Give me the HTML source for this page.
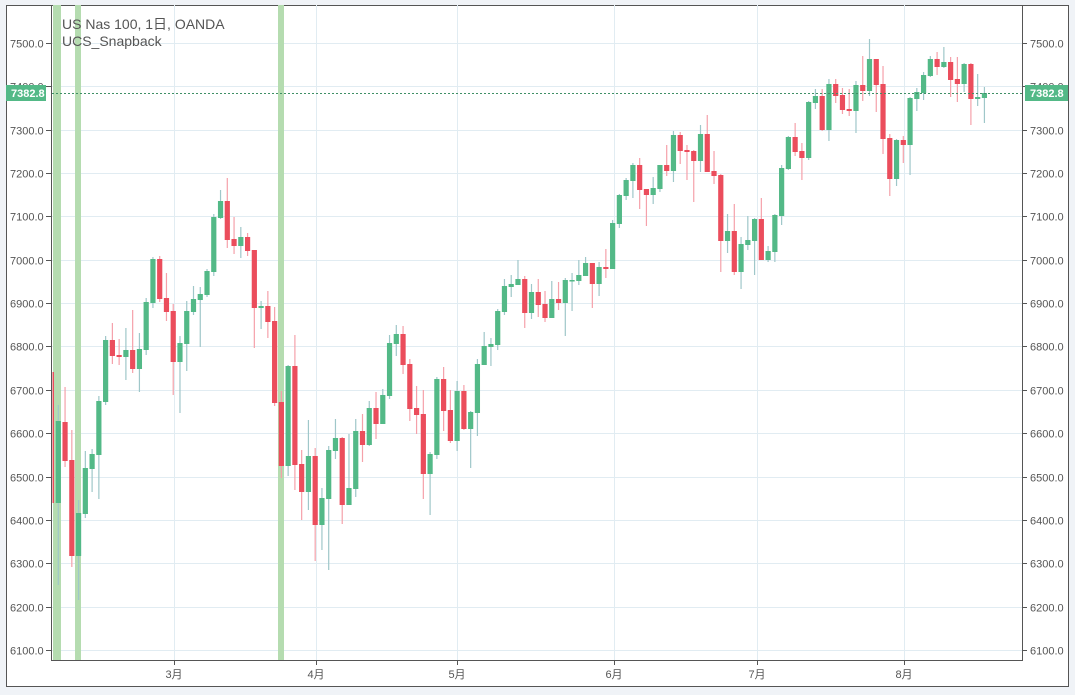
<!DOCTYPE html>
<html><head><meta charset="utf-8">
<style>
html,body{margin:0;padding:0;background:#f0f3f7;}
svg{display:block;font-family:"Liberation Sans","Noto Sans CJK JP",sans-serif;}
</style></head>
<body>
<svg id="c" width="1075" height="695" xmlns="http://www.w3.org/2000/svg">
<rect x="6.5" y="5.5" width="1062" height="681" fill="#fff" stroke="#555" stroke-width="1"/>
<g id="grid"></g>
<rect x="53" y="5" width="8" height="655" fill="#b5dcb0"/>
<rect x="75" y="5" width="6" height="655" fill="#b5dcb0"/>
<rect x="278" y="5" width="6" height="655" fill="#b5dcb0"/>
<g id="cd"></g>
<line x1="52" y1="93.5" x2="1022" y2="93.5" stroke="#3f8f66" stroke-width="1" stroke-dasharray="2,2"/>
<line x1="51.5" y1="5" x2="51.5" y2="661" stroke="#555"/>
<line x1="1022.5" y1="5" x2="1022.5" y2="661" stroke="#555"/>
<line x1="51" y1="660.5" x2="1023" y2="660.5" stroke="#555"/>
<g id="ax" font-size="11" fill="#555"></g>
<text x="62" y="29" font-size="14" fill="#555">US Nas 100, 1日, OANDA</text>
<text x="62" y="46" font-size="14" fill="#555">UCS_Snapback</text>
<rect x="6" y="85" width="40" height="16" fill="#53b987"/>
<text x="11" y="97" font-size="11" font-weight="bold" fill="#fff">7382.8</text>
<rect x="1025" y="85" width="43" height="16" fill="#53b987"/>
<text x="1030" y="97" font-size="11" font-weight="bold" fill="#fff">7382.8</text>
</svg>
<script>
var NS="http://www.w3.org/2000/svg";
function el(p,t,a,txt){var e=document.createElementNS(NS,t);for(var k in a)e.setAttribute(k,a[k]);if(txt)e.textContent=txt;p.appendChild(e);return e;}
var g=document.getElementById('grid'),ax=document.getElementById('ax'),cd=document.getElementById('cd');
for(var p=6100;p<=7500;p+=100){var y=Math.round(43+(7500-p)*0.43357)+0.5;
el(g,'line',{x1:52,y1:y,x2:1022,y2:y,stroke:'#e1ecf2'});
el(ax,'line',{x1:46,y1:y,x2:51,y2:y,stroke:'#555'});
el(ax,'line',{x1:1022,y1:y,x2:1027,y2:y,stroke:'#555'});
el(ax,'text',{x:10,y:y+4},p.toFixed(1));
el(ax,'text',{x:1030,y:y+4},p.toFixed(1));}
var ms=[[174,'3月'],[316,'4月'],[457,'5月'],[614,'6月'],[757,'7月'],[904,'8月']];
ms.forEach(function(m){var x=m[0]+0.5;el(g,'line',{x1:x,y1:5,x2:x,y2:660,stroke:'#e1ecf2'});
el(ax,'line',{x1:x,y1:660,x2:x,y2:665,stroke:'#555'});
el(ax,'text',{x:m[0],y:678,'text-anchor':'middle'},m[1]);});
var D=[[1,421,503,405,585],[0,422,461,387,467],[0,460,556,430,567],[1,513,556,500,600],[1,468,514,451,518],[1,454,469,449,492],[1,401,455,396,499],[1,340,402,336,405],[0,340,356,323,364],[0,355,357,339,365],
[1,350,357,328,380],[0,350,369,310,373],[1,349,369,333,392],[1,302,350,298,355],[1,259,303,257,308],[0,259,299,256,302],[0,298,312,273,321],[0,311,362,304,395],[1,343,362,336,413],[1,311,344,301,371],
[1,299,312,286,315],[1,294,300,287,347],[1,271,295,269,297],[1,217,272,214,276],[1,201,218,190,219],[0,201,240,178,248],[0,239,246,217,254],[1,237,246,227,258],[0,237,251,233,256],[0,250,308,250,348],
[1,306,308,301,329],[0,306,322,291,338],[0,321,403,307,406],[0,402,466,391,478],[1,366,466,365,476],[0,366,465,335,490],[0,464,492,450,520],[1,456,492,420,510],[0,456,525,448,561],[1,498,525,488,550],
[1,450,499,446,570],[1,438,451,419,459],[0,438,505,437,524],[1,488,505,434,505],[1,431,489,419,497],[0,431,445,414,462],[1,408,445,401,446],[0,408,424,392,439],[1,395,424,389,424],[1,343,396,335,399],
[1,334,344,325,356],[0,334,365,326,374],[0,364,409,359,421],[0,408,415,386,434],[0,414,474,390,499],[1,454,474,452,515],[1,379,455,377,459],[0,379,411,367,431],[0,410,441,390,443],[1,391,441,381,451],
[0,391,429,385,430],[1,412,429,411,468],[1,364,413,359,436],[1,346,365,332,365],[1,344,347,338,366],[1,311,345,309,350],[1,286,312,279,315],[1,284,287,275,297],[1,279,285,260,285],[0,279,313,276,328],
[1,292,313,284,319],[0,292,305,279,317],[0,304,318,291,322],[1,299,318,281,318],[0,299,303,282,310],[1,280,303,278,336],[1,280,281,273,311],[1,275,281,260,285],[1,263,276,257,276],[0,263,284,263,308],
[1,267,284,262,296],[0,267,269,249,278],[1,223,269,220,269],[1,195,224,194,228],[1,180,196,178,200],[1,165,181,163,198],[0,165,190,158,209],[0,189,195,189,226],[1,188,195,177,204],[1,165,189,165,192],
[0,165,171,145,176],[1,135,171,131,182],[0,135,151,132,164],[0,150,152,145,180],[0,151,161,150,202],[1,134,161,125,172],[0,134,172,115,172],[0,171,176,151,184],[0,175,241,174,272],[1,231,241,214,253],
[0,231,272,204,275],[1,244,272,237,289],[1,240,245,216,250],[1,219,241,218,275],[0,219,260,198,260],[1,251,260,246,262],[1,215,252,214,262],[1,168,216,165,225],[1,137,169,136,170],[0,137,152,123,156],
[0,151,158,143,180],[1,102,158,101,160],[1,96,103,89,109],[0,96,130,89,131],[1,84,130,79,141],[0,84,96,79,103],[0,95,110,88,114],[0,109,111,89,116],[1,85,111,81,133],[0,85,91,56,101],
[1,59,91,39,96],[0,59,85,59,112],[0,84,139,66,154],[0,138,179,134,196],[1,140,179,139,186],[0,140,145,136,163],[1,98,145,97,175],[1,92,99,88,111],[1,75,93,72,100],[1,59,76,56,77],
[0,59,67,52,75],[1,62,67,47,68],[0,62,80,57,97],[0,79,84,57,102],[1,64,84,63,92],[0,64,99,63,125],[1,97,99,74,106],[1,93,98,87,123]];
el(cd,'rect',{x:52.5,y:372,width:1.5,height:131,fill:'#eb4d5c'});
D.forEach(function(d,i){var x=58.3+6.76*i;var up=d[0]==1;
el(cd,'rect',{x:x-0.6,y:d[3],width:1.2,height:Math.max(1,d[4]-d[3]),fill:up?'#9fc7c9':'#f5a1aa'});
el(cd,'rect',{x:x-2.6,y:d[1],width:5.2,height:Math.max(1.5,d[2]-d[1]),fill:up?'#53b987':'#eb4d5c'});});
</script>
</body></html>
